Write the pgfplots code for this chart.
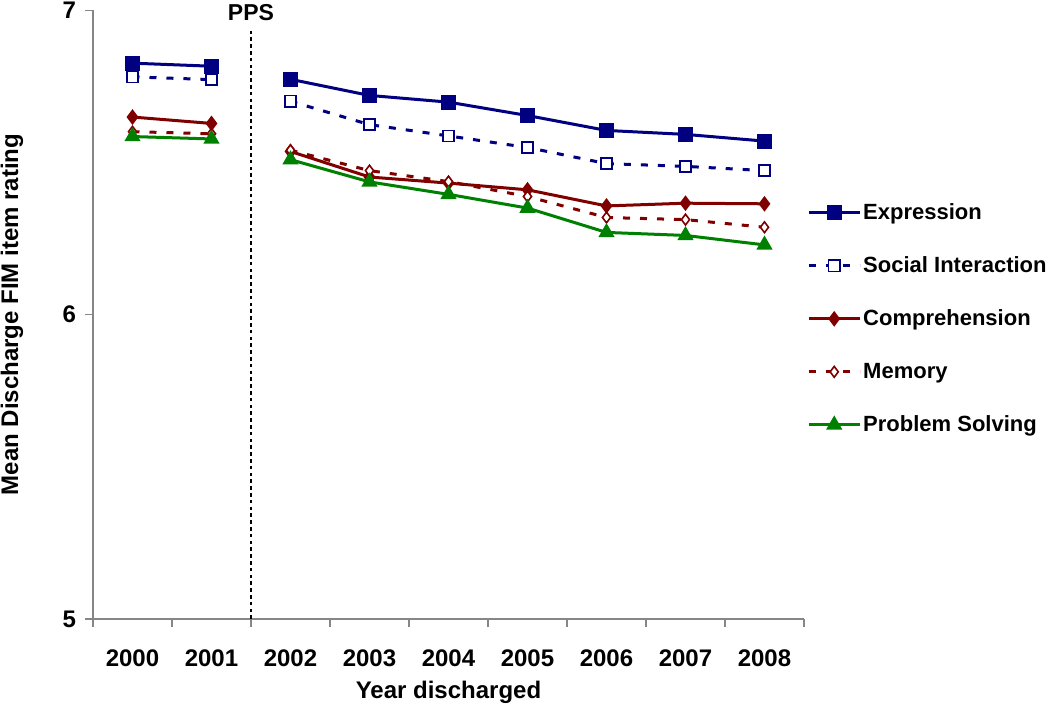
\documentclass[border=0pt]{standalone}
\usepackage{pgfplots}
\pgfplotsset{compat=1.18}
\usepackage{fontspec}
\setmainfont{Liberation Sans}
\definecolor{cnavy}{HTML}{000080}
\definecolor{cred}{HTML}{800000}
\definecolor{cgreen}{HTML}{008000}
\definecolor{axgray}{HTML}{868686}
\begin{document}
\begin{tikzpicture}
\useasboundingbox (-46.5pt,-42pt) rectangle (478.5pt,309.5pt);
\begin{axis}[
  at={(0,0)}, anchor=south west,
  scale only axis, width=355.5pt, height=304.4pt,
  xmin=-0.5, xmax=8.5, ymin=5, ymax=7,
  clip=false,
  unbounded coords=jump,
  axis x line=bottom, axis y line=left,
  axis line style={-, draw=axgray, line width=0.7pt},
  tick align=outside,
  tick style={draw=axgray, line width=0.7pt},
  major tick length=4pt,
  xtick={-0.5,0.5,1.5,2.5,3.5,4.5,5.5,6.5,7.5,8.5},
  x tick label as interval,
  xticklabels={2000,2001,2002,2003,2004,2005,2006,2007,2008},
  ytick={5,6,7},
  /pgf/number format/assume math mode=true,
  tick label style={font=\bfseries\fontsize{12}{14}\selectfont},
  xticklabel style={yshift=-8pt},
  yticklabel style={xshift=-1pt},
  xlabel={Year discharged},
  ylabel={Mean Discharge FIM item rating},
  label style={font=\bfseries\fontsize{12}{14}\selectfont},
  xlabel style={at={(axis description cs:0.5,-0.12)}, anchor=center},
  ylabel style={at={(axis description cs:-0.114,0.5)}, anchor=center},
  legend cell align=left,
  legend image code/.code={\draw[mark repeat=2,mark phase=2,#1] plot coordinates {(0pt,0pt) (12.75pt,0pt) (25.5pt,0pt)};},
  legend style={at={(axis description cs:1.004,0.69)}, anchor=north west,
    draw=none, fill=none, inner sep=0pt, row sep=13pt,
    font=\bfseries\fontsize{11}{13}\selectfont,
    nodes={inner sep=1pt, text height=9pt, text depth=2.5pt},
    /tikz/every odd column/.append style={column sep=0pt}},
]
\addplot[cnavy, line width=1.5pt, mark=square*, mark size=3pt, mark options={solid, fill=cnavy}]
  coordinates {(0,6.826) (1,6.816) (1.5,nan) (2,6.773) (3,6.720) (4,6.698) (5,6.654) (6,6.605) (7,6.592) (8,6.570)};
\addlegendentry{Expression}
\addplot[cnavy, line width=1.5pt, dash pattern=on 3.5pt off 5pt, mark=square*, mark size=2.8pt, mark options={solid, fill=white, line width=0.8pt}]
  coordinates {(0,6.781) (1,6.772) (1.5,nan) (2,6.701) (3,6.624) (4,6.587) (5,6.549) (6,6.496) (7,6.487) (8,6.473)};
\addlegendentry{Social Interaction}
\addplot[cred, line width=1.5pt, mark=diamond*, mark size=2.7pt, mark options={solid, fill=cred}]
  coordinates {(0,6.649) (1,6.628) (1.5,nan) (2,6.536) (3,6.452) (4,6.432) (5,6.410) (6,6.357) (7,6.366) (8,6.364)};
\addlegendentry{Comprehension}
\addplot[cred, line width=1.5pt, dash pattern=on 3.5pt off 5pt, mark=diamond*, mark size=2.7pt, mark options={solid, fill=white, line width=0.8pt}]
  coordinates {(0,6.601) (1,6.594) (1.5,nan) (2,6.540) (3,6.473) (4,6.437) (5,6.388) (6,6.319) (7,6.312) (8,6.287)};
\addlegendentry{Memory}
\addplot[cgreen, line width=1.5pt, mark=triangle*, mark size=3.2pt, mark options={solid, fill=cgreen}]
  coordinates {(0,6.585) (1,6.577) (1.5,nan) (2,6.509) (3,6.436) (4,6.395) (5,6.350) (6,6.270) (7,6.260) (8,6.229)};
\addlegendentry{Problem Solving}
\draw[black, line width=0.6pt, dash pattern=on 1.8pt off 1.6pt] (axis cs:1.5,5) -- (axis cs:1.5,6.942);
\node[font=\bfseries\fontsize{11.5}{13}\selectfont, anchor=center] at (axis cs:1.5,6.993) {PPS};
\end{axis}
\end{tikzpicture}
\end{document}
